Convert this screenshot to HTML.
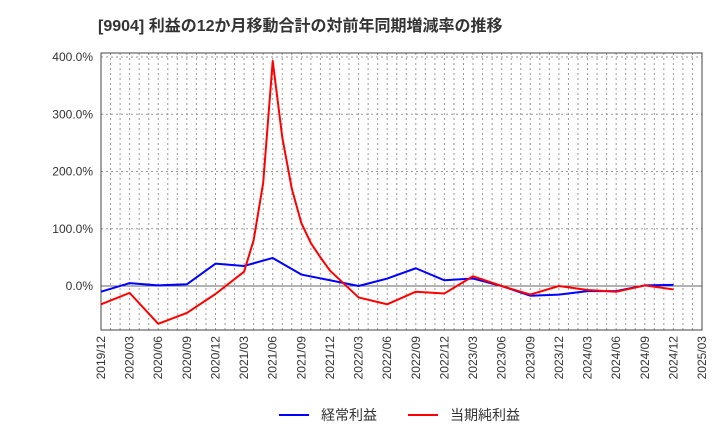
<!DOCTYPE html>
<html><head><meta charset="utf-8"><style>
body{margin:0;background:#fff;font-family:"Liberation Sans","Noto Sans CJK JP",sans-serif;}
</style></head><body>
<svg id="c" width="720" height="440" xmlns="http://www.w3.org/2000/svg">
<text x="98" y="31" font-size="16" font-weight="bold" fill="#333" font-family="Liberation Sans, Noto Sans CJK JP, sans-serif">[9904]  利益の12か月移動合計の対前年同期増減率の推移</text>
</svg>
<script>
const xTicks=["2019/12","2020/03","2020/06","2020/09","2020/12","2021/03","2021/06","2021/09","2021/12","2022/03","2022/06","2022/09","2022/12","2023/03","2023/06","2023/09","2023/12","2024/03","2024/06","2024/09","2024/12","2025/03"];
const yTicks=[0,100,200,300,400];
const blueDates=["2019/12","2020/03","2020/06","2020/09","2020/12","2021/03","2021/06","2021/09","2021/12","2022/03","2022/06","2022/09","2022/12","2023/03","2023/06","2023/09","2023/12","2024/03","2024/06","2024/09","2024/12"];
const blueVals=[-10,5,1,3,39,35,49,20,10,0,13,31,10,13,0,-17,-15,-9,-9,1,2];
const redDates=["2019/12","2020/03","2020/06","2020/09","2020/12","2021/03","2021/04","2021/05","2021/06","2021/07","2021/08","2021/09","2021/10","2021/11","2021/12","2022/03","2022/06","2022/09","2022/12","2023/03","2023/06","2023/09","2023/12","2024/03","2024/06","2024/09","2024/12"];
const redVals=[-32,-12,-66,-47,-14,25,80,180,393,260,170,110,75,50,27,-20,-32,-10,-13,17,0,-15,0,-7,-10,1,-6];
const L=101,R=702,T=53,B=330;
const mi=s=>{const [y,m]=s.split('/').map(Number);return (y-2019)*12+m-12;};
const X=s=>L+mi(s)*(R-L)/63;
const Y=v=>286-v*0.5725;
const svg=document.getElementById('c');
const NS="http://www.w3.org/2000/svg";
function mk(t,a,p){const e=document.createElementNS(NS,t);for(const k in a)e.setAttribute(k,a[k]);(p||svg).appendChild(e);return e;}
const g=mk('g',{});


for(let i=1;i<63;i++){const x=L+i*(R-L)/63;mk('line',{x1:x,x2:x,y1:T,y2:B,stroke:'#999','stroke-dasharray':'2,3','stroke-width':1},g);}
for(const v of yTicks){const y=Y(v);mk('line',{x1:L,x2:R,y1:y,y2:y,stroke:v===0?'#666':'#999','stroke-dasharray':v===0?'':'2,3','stroke-width':1},g);
const t=mk('text',{x:L-8,y:y+4,'text-anchor':'end','font-size':12,fill:'#333'});t.textContent=v.toFixed(1)+'%';

}
mk('line',{x1:L,x2:R,y1:Y(400)-4,y2:Y(400)-4,stroke:'#999','stroke-dasharray':'2,3'},g);
for(const s of xTicks){const x=X(s);const t=mk('text',{x:x+4,y:B+6,'text-anchor':'end','font-size':12,fill:'#333',transform:`rotate(-90 ${x+4} ${B+6})`});t.textContent=s;

}
const fr=mk('rect',{x:L,y:T,width:R-L,height:B-T,fill:'none',stroke:'#444','stroke-width':1});


function line(d,v,c,n){const p=mk('polyline',{points:d.map((s,i)=>X(s)+','+Y(v[i])).join(' '),fill:'none',stroke:c,'stroke-width':2,'stroke-linejoin':'round'});

}
line(blueDates,blueVals,'#0000ff','series-keijo-rieki');
line(redDates,redVals,'#ff0000','series-junrieki');
const lg=mk('g',{});


mk('line',{x1:279,x2:309,y1:415,y2:415,stroke:'#0000ff','stroke-width':2},lg);
let t1=mk('text',{x:321,y:420,'font-size':14,fill:'#333'},lg);t1.textContent='経常利益';
mk('line',{x1:408,x2:438,y1:415,y2:415,stroke:'#ff0000','stroke-width':2},lg);
let t2=mk('text',{x:450,y:420,'font-size':14,fill:'#333'},lg);t2.textContent='当期純利益';
</script>
</body></html>
